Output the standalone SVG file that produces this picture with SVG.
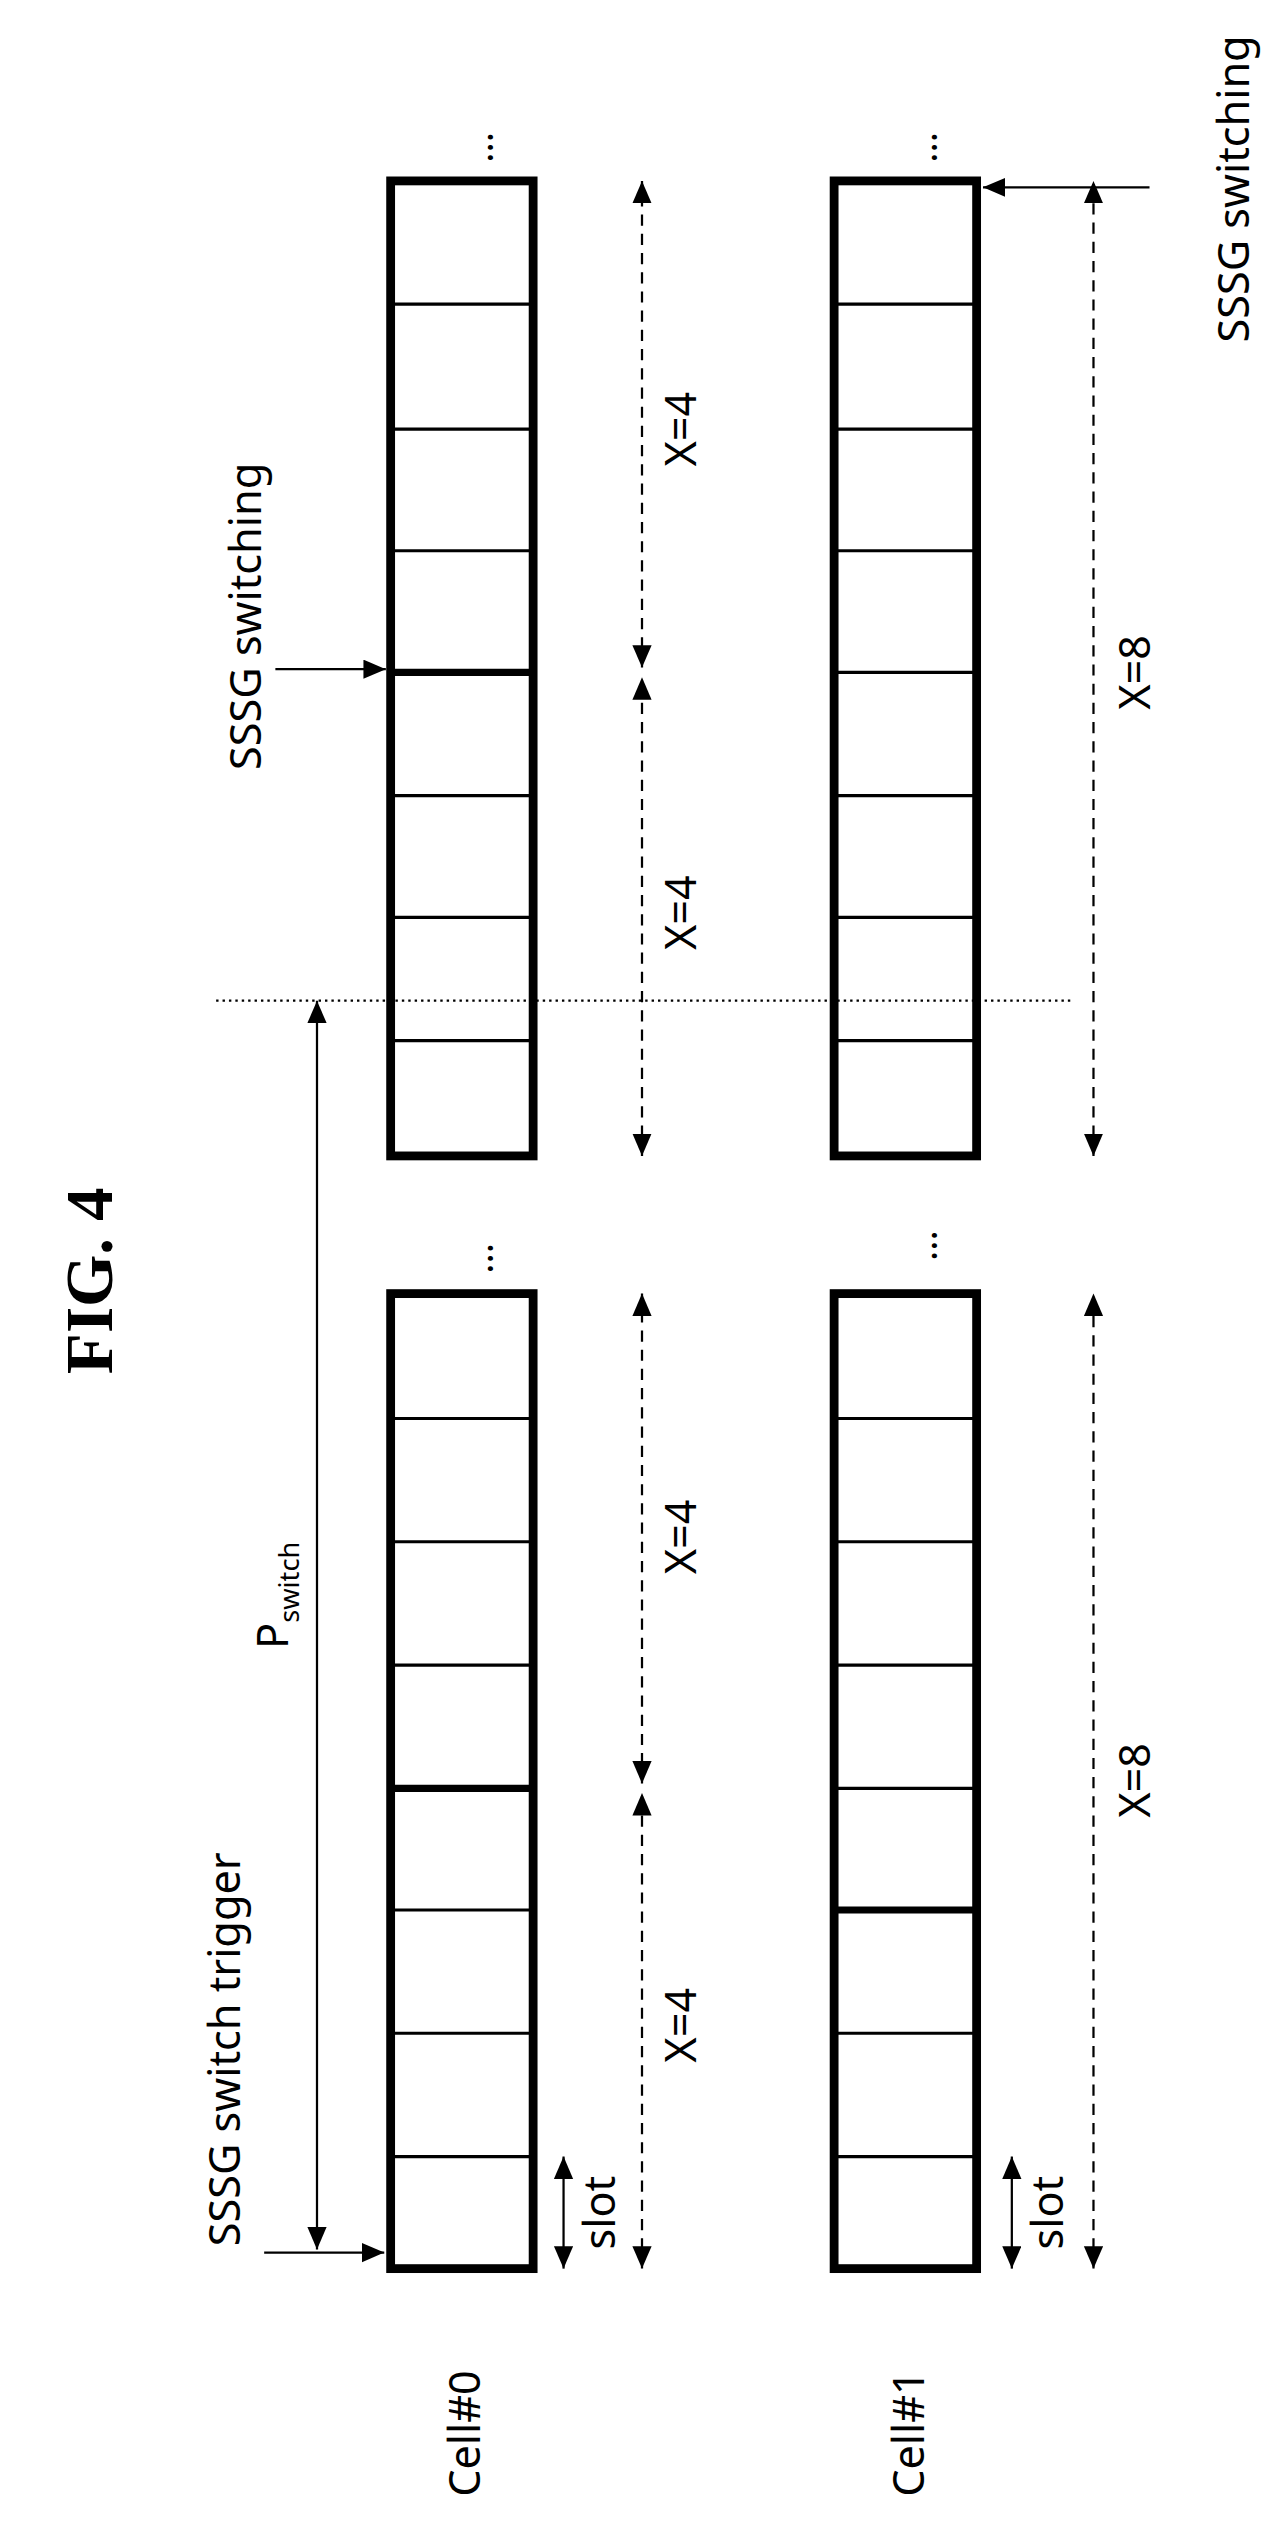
<svg xmlns="http://www.w3.org/2000/svg" width="1281" height="2526" viewBox="0 0 1281 2526">
<style>
.box{fill:#fff;stroke:#000;stroke-width:5.5}
.d{stroke:#000;stroke-width:2}
.dt{stroke:#000;stroke-width:4.5}
.dash{stroke:#000;stroke-width:1.4;stroke-dasharray:7,5;fill:none}
.ln{stroke:#000;stroke-width:1.4;fill:none}
.t{font-family:"Noto Sans","DejaVu Sans",sans-serif;font-size:27px;fill:#000}
.dots{font-family:"Noto Sans",sans-serif;font-size:24px;fill:#000}
</style>
<defs>
<marker id="a" markerWidth="16" markerHeight="14" refX="14" refY="6" orient="auto-start-reverse" markerUnits="userSpaceOnUse"><path d="M0,0 L14,6 L0,12 Z" fill="#000"/></marker>
</defs>
<rect width="1281" height="2526" fill="#fff"/>
<g transform="scale(1.601)">
<text x="0" y="0" transform="translate(70,800) rotate(-90)" text-anchor="middle" font-family="Liberation Serif,serif" font-weight="bold" font-size="42">FIG. 4</text>
<g id="cell0-lower">
<rect class="box" x="244" y="808" width="89" height="609"/>
<line class="d" x1="244" y1="886" x2="333" y2="886"/><line class="d" x1="244" y1="963" x2="333" y2="963"/><line class="d" x1="244" y1="1040" x2="333" y2="1040"/><line class="dt" x1="244" y1="1117" x2="333" y2="1117"/><line class="d" x1="244" y1="1193" x2="333" y2="1193"/><line class="d" x1="244" y1="1270" x2="333" y2="1270"/><line class="d" x1="244" y1="1347" x2="333" y2="1347"/>
</g>
<g id="cell0-upper">
<rect class="box" x="244" y="113" width="89" height="609"/>
<line class="d" x1="244" y1="190" x2="333" y2="190"/><line class="d" x1="244" y1="268" x2="333" y2="268"/><line class="d" x1="244" y1="344" x2="333" y2="344"/><line class="dt" x1="244" y1="420" x2="333" y2="420"/><line class="d" x1="244" y1="497" x2="333" y2="497"/><line class="d" x1="244" y1="573" x2="333" y2="573"/><line class="d" x1="244" y1="650" x2="333" y2="650"/>
</g>
<g id="cell1-lower">
<rect class="box" x="521" y="808" width="89" height="609"/>
<line class="d" x1="521" y1="886" x2="610" y2="886"/><line class="d" x1="521" y1="963" x2="610" y2="963"/><line class="d" x1="521" y1="1040" x2="610" y2="1040"/><line class="d" x1="521" y1="1117" x2="610" y2="1117"/><line class="dt" x1="521" y1="1193" x2="610" y2="1193"/><line class="d" x1="521" y1="1270" x2="610" y2="1270"/><line class="d" x1="521" y1="1347" x2="610" y2="1347"/>
</g>
<g id="cell1-upper">
<rect class="box" x="521" y="113" width="89" height="609"/>
<line class="d" x1="521" y1="190" x2="610" y2="190"/><line class="d" x1="521" y1="268" x2="610" y2="268"/><line class="d" x1="521" y1="344" x2="610" y2="344"/><line class="d" x1="521" y1="420" x2="610" y2="420"/><line class="d" x1="521" y1="497" x2="610" y2="497"/><line class="d" x1="521" y1="573" x2="610" y2="573"/><line class="d" x1="521" y1="650" x2="610" y2="650"/>
</g>
<g id="labels">
<text class="t" transform="translate(300,1520) rotate(-90)" text-anchor="middle">Cell#0</text>
<text class="t" transform="translate(577,1520) rotate(-90)" text-anchor="middle">Cell#1</text>
<text class="t" transform="translate(384,1382) rotate(-90)" text-anchor="middle">slot</text>
<text class="t" transform="translate(664,1382) rotate(-90)" text-anchor="middle">slot</text>
<text class="t" transform="translate(435,1265) rotate(-90)" text-anchor="middle">X=4</text>
<text class="t" transform="translate(435,960) rotate(-90)" text-anchor="middle">X=4</text>
<text class="t" transform="translate(435,570) rotate(-90)" text-anchor="middle">X=4</text>
<text class="t" transform="translate(435,268) rotate(-90)" text-anchor="middle">X=4</text>
<text class="t" transform="translate(718,1112) rotate(-90)" text-anchor="middle">X=8</text>
<text class="t" transform="translate(718,420) rotate(-90)" text-anchor="middle">X=8</text>
<text class="t" transform="translate(150,1280) rotate(-90)" text-anchor="middle">SSSG switch trigger</text>
<text class="t" transform="translate(163,385) rotate(-90)" text-anchor="middle">SSSG switching</text>
<text class="t" transform="translate(780,118) rotate(-90)" text-anchor="middle">SSSG switching</text>
<text class="t" transform="translate(180,1030) rotate(-90)" text-anchor="start">P<tspan font-size="17" dy="7">switch</tspan></text>
<text class="dots" transform="translate(308,786) rotate(-90)" text-anchor="middle">...</text>
<text class="dots" transform="translate(308,92) rotate(-90)" text-anchor="middle">...</text>
<text class="dots" transform="translate(585,778) rotate(-90)" text-anchor="middle">...</text>
<text class="dots" transform="translate(585,92) rotate(-90)" text-anchor="middle">...</text>
</g>
<g id="connectors">
<line class="dash" x1="401" y1="1417" x2="401" y2="1120" marker-start="url(#a)" marker-end="url(#a)"/>
<line class="dash" x1="401" y1="1114" x2="401" y2="808" marker-start="url(#a)" marker-end="url(#a)"/>
<line class="dash" x1="401" y1="722" x2="401" y2="423" marker-start="url(#a)" marker-end="url(#a)"/>
<line class="dash" x1="401" y1="417" x2="401" y2="113" marker-start="url(#a)" marker-end="url(#a)"/>
<line class="dash" x1="683" y1="1417" x2="683" y2="808" marker-start="url(#a)" marker-end="url(#a)"/>
<line class="dash" x1="683" y1="722" x2="683" y2="113" marker-start="url(#a)" marker-end="url(#a)"/>
<line class="ln" x1="352" y1="1417" x2="352" y2="1347" marker-start="url(#a)" marker-end="url(#a)"/>
<line class="ln" x1="632" y1="1417" x2="632" y2="1347" marker-start="url(#a)" marker-end="url(#a)"/>
<line class="ln" x1="165" y1="1407" x2="240" y2="1407" marker-end="url(#a)"/>
<line class="ln" x1="198" y1="1405" x2="198" y2="625" marker-start="url(#a)" marker-end="url(#a)"/>
<line class="ln" x1="135" y1="625" x2="670" y2="625" stroke-dasharray="1.5,2.5"/>
<line class="ln" x1="172" y1="418" x2="241" y2="418" marker-end="url(#a)"/>
<line class="ln" x1="718" y1="117" x2="614" y2="117" marker-end="url(#a)"/>
</g>
</g>
</svg>
